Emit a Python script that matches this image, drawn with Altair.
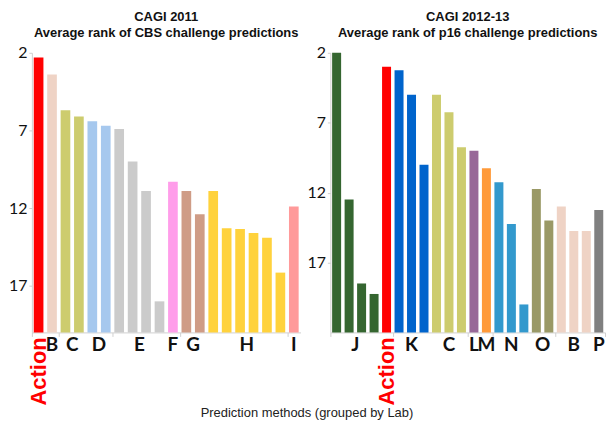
import altair as alt
import pandas as pd

# ---- data ----
left_labs = ["Action", "B", "C", "C", "D", "D", "E", "E", "E", "E", "F", "G", "G",
             "H", "H", "H", "H", "H", "H", "I"]
left_vals = [2.3, 3.4, 5.7, 6.1, 6.4, 6.7, 6.9, 9.0, 10.9, 18.0, 10.3, 10.9, 12.4,
             10.9, 13.3, 13.35, 13.6, 13.9, 16.15, 11.9]

right_labs = ["J", "J", "J", "J", "Action", "K", "K", "K", "C", "C", "C", "L", "M",
              "N", "N", "N", "O", "O", "B", "B", "B", "P"]
right_vals = [2.0, 12.5, 18.5, 19.25, 3.0, 3.25, 5.0, 10.0, 5.0, 6.25, 8.75, 9.0, 10.25,
              11.25, 14.25, 20.0, 11.75, 14.0, 13.0, 14.75, 14.75, 13.25]

lab_colors = {
    "Action": "#FF0000", "B": "#EFD3C5", "C": "#CDCC6E", "D": "#A6C8EE",
    "E": "#CBCBCB", "F": "#FF9DEA", "G": "#CF9C86", "H": "#FFD23C",
    "I": "#FF9A9A", "J": "#356630", "K": "#0064CC", "L": "#986898",
    "M": "#FF9A3A", "N": "#3399CD", "O": "#9A9966", "P": "#808080",
}

y_ticks = [2, 7, 12, 17]
left_domain = [2, 20]
right_domain = [2, 22]

left_title = ["CAGI 2011", "Average rank of CBS challenge predictions"]
right_title = ["CAGI 2012-13", "Average rank of p16 challenge predictions"]
x_title = "Prediction methods (grouped by Lab)"

H = 281


def panel(labs, vals, domain, title, width):
    n = len(labs)
    df = pd.DataFrame({"idx": list(range(n)), "lab": labs, "val": vals,
                       "color": [lab_colors[l] for l in labs]})
    # consecutive groups
    groups = []
    start = 0
    for i in range(1, n + 1):
        if i == n or labs[i] != labs[start]:
            groups.append((labs[start], start, i - 1))
            start = i
    gdf = pd.DataFrame({
        "lab": [g[0] for g in groups],
        "center": [(g[1] + g[2]) / 2 for g in groups],
    })
    bounds = [g[1] - 0.5 for g in groups] + [n - 0.5]

    xscale = alt.Scale(domain=[-0.5, n - 0.5], nice=False, zero=False)
    yscale = alt.Scale(domain=domain, reverse=True, nice=False, zero=False)

    bars = alt.Chart(df).transform_calculate(
        x0="datum.idx - 0.36", x1="datum.idx + 0.36"
    ).mark_bar().encode(
        x=alt.X("x0:Q", scale=xscale,
                axis=alt.Axis(values=bounds, labels=False, title=None, grid=False,
                              tickSize=4, tickColor="#d0d0d0", domainColor="#d0d0d0")),
        x2="x1:Q",
        y=alt.Y("val:Q", scale=yscale,
                axis=alt.Axis(values=y_ticks, title=None, grid=False,
                              labelFont="Lato", labelFontSize=16, labelColor="#111",
                              labelPadding=2, tickSize=3, tickColor="#d0d0d0",
                              domainColor="#d0d0d0")),
        y2=alt.datum(domain[1]),
        color=alt.Color("color:N", scale=None),
    )

    letters = alt.Chart(gdf).transform_filter("datum.lab != 'Action'").mark_text(
        font="Lato", fontSize=19, fontWeight="bold", baseline="top", color="#111"
    ).encode(x=alt.X("center:Q", scale=xscale), y=alt.value(H + 4), text="lab:N")

    action = alt.Chart(gdf).transform_filter("datum.lab == 'Action'").mark_text(
        font="Liberation Sans", fontSize=22, fontWeight="bold", angle=270,
        align="right", baseline="middle", color="#FF0000"
    ).encode(x=alt.X("center:Q", scale=xscale), y=alt.value(H + 5), text="lab:N")

    return alt.layer(bars, letters, action).properties(
        width=width, height=H,
        title=alt.TitleParams(title, font="Liberation Sans", fontSize=13,
                              fontWeight="bold", anchor="middle", offset=5,
                              lineHeight=16, color="#111"),
    )


left = panel(left_labs, left_vals, left_domain, left_title, 270)
right = panel(right_labs, right_vals, right_domain, right_title, 276)

chart = alt.hconcat(left, right, spacing=6).properties(
    padding={"left": 0, "right": 0, "top": 2, "bottom": 0},
    title=alt.TitleParams(x_title, orient="bottom", anchor="middle",
                          font="Liberation Sans", fontSize=13, fontWeight="normal",
                          color="#222", offset=2),
).configure_view(stroke=None)

chart.save("out.html", embed_options={"renderer": "svg", "actions": False})
